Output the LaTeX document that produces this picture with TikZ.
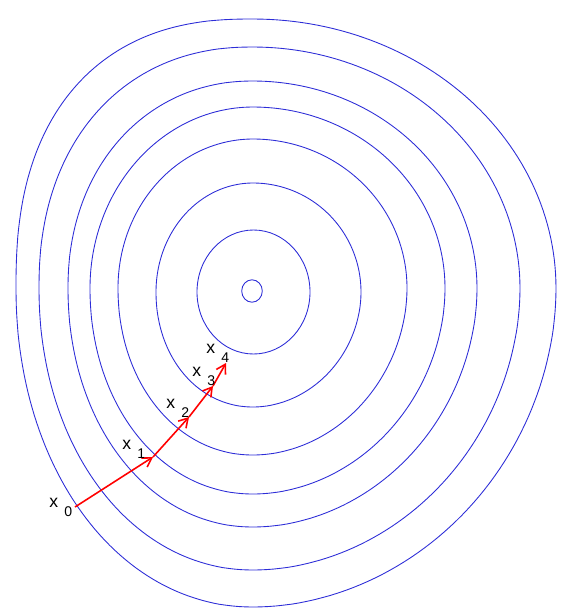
\documentclass[tikz,border=0pt]{standalone}
\usepackage{fontspec}
\setmainfont{Liberation Sans}
\usetikzlibrary{arrows.meta}
\definecolor{levelblue}{RGB}{45,45,215}
\tikzset{
	level/.style={draw=levelblue, line width=0.5pt},
	descent/.style={draw=red, line width=0.9pt, -{Straight Barb[length=5pt,width=6pt]}},
	iterate/.style={anchor=base west, inner sep=0pt, font=\fontsize{10}{10}\selectfont}
}
\newcommand{\iter}[1]{x\hspace{3.5pt}\raisebox{-5.5pt}{\fontsize{8}{8}\selectfont #1}}
% centre (#1,#2), radii right/top/left/bottom, squareness of the upper left quarter
\def\levelcurve(#1,#2)(#3,#4,#5,#6)[#7]{\draw[level]
	plot[domain=0.05:89.95, samples=60] ({#1+#3*cos(\x)}, {#2-#4*sin(\x)})
	-- plot[domain=89.95:0.05, samples=60] ({#1-#5*pow(cos(\x),2/#7)}, {#2-#4*pow(sin(\x),2/#7)})
	-- plot[domain=0.05:89.95, samples=60] ({#1-#5*pow(cos(\x),2/2.05)}, {#2+#6*pow(sin(\x),2/2.05)})
	-- plot[domain=89.95:0.05, samples=60] ({#1+#3*pow(cos(\x),2/1.95)}, {#2+#6*pow(sin(\x),2/1.95)})
	-- cycle;}

\begin{document}
\begin{tikzpicture}[x=0.2mm, y=-0.2mm]
			\useasboundingbox (0,0) rectangle (567,614);
			
			%%%%% level curves %%%%%
			\levelcurve(253,288)(303,269,237,319)[2.4]
			\levelcurve(253,288)(267,241,214,282)[2.2]
			\levelcurve(253,288)(224,207,185,239)[2.1]
			\levelcurve(253,288)(192,181,163,206)[2]
			\levelcurve(253,288)(154,149,135,167)[2]
			\levelcurve(253,292)(108,109,97,115)[2]
			\draw[level] (253.5,292) ellipse [x radius=11.3mm, y radius=12.4mm];
			\draw[level] (252,291) ellipse [x radius=2.06mm, y radius=2.24mm];
			
			%%%%% iterates %%%%%
			\coordinate (p0) at (75,507);
			\coordinate (p1) at (153,457);
			\coordinate (p2) at (189,417);
			\coordinate (p3) at (213,386);
			\coordinate (p4) at (226,363);
			
			\draw[descent] (p0) -- (p1);
			\draw[descent] (p1) -- (p2);
			\draw[descent] (p2) -- (p3);
			\draw[descent] (p3) -- (p4);
			
			\node[iterate] (x0) at (49,507) {\iter{0}};
			\node[iterate] (x1) at (122,449) {\iter{1}};
			\node[iterate] (x2) at (166,408) {\iter{2}};
			\node[iterate] (x3) at (192,376) {\iter{3}};
			\node[iterate] (x4) at (206,353) {\iter{4}};
		\end{tikzpicture}
\end{document}
